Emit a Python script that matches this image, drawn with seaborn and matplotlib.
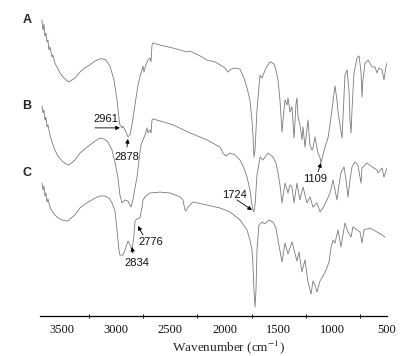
"""FTIR spectra of samples A, B and C"""

import pandas as pd
import seaborn as sns
import matplotlib.pyplot as plt
from matplotlib.ticker import MultipleLocator

# ---- data (wavenumber cm-1, transmittance a.u.) ----
wn_a = [3685, 3675, 3666, 3657, 3648, 3638, 3629, 3620, 3611, 3592, 3583, 3565, 3546, 3518,
        3491, 3463, 3435, 3380, 3334, 3288, 3242, 3195, 3149, 3122, 3094, 3057, 3020, 2992,
        2974, 2965, 2946, 2937, 2918, 2891, 2872, 2854, 2826, 2798, 2780, 2762, 2752, 2743,
        2725, 2706, 2688, 2678, 2669, 2660, 2595, 2475, 2346, 2318, 2226, 2162, 2088, 2042,
        1995, 1968, 1940, 1903, 1857, 1820, 1792, 1765, 1746, 1737, 1728, 1718, 1700, 1682,
        1672, 1654, 1635, 1617, 1580, 1543, 1525, 1506, 1488, 1469, 1451, 1441, 1423, 1414,
        1395, 1377, 1358, 1340, 1331, 1321, 1303, 1285, 1275, 1257, 1229, 1211, 1192, 1183,
        1165, 1137, 1118, 1109, 1091, 1072, 1045, 1026, 1008, 980, 962, 952, 934, 915, 897,
        888, 869, 851, 842, 832, 823, 805, 777, 758, 740, 731, 722, 703, 675, 638, 611, 592,
        574, 546, 528, 509, 500]
t_a = [98.7, 95.3, 97.3, 93.3, 94.3, 91.3, 92.0, 88.7, 89.7, 86.3, 87.0, 84.3, 83.0, 81.0,
       79.7, 78.7, 78.0, 79.3, 81.3, 82.7, 83.7, 85.0, 85.7, 85.7, 85.3, 83.3, 78.7, 72.0,
       66.0, 63.7, 62.7, 63.3, 62.0, 59.7, 60.3, 63.7, 70.3, 77.0, 79.7, 82.0, 83.3, 81.3,
       83.7, 85.3, 86.0, 84.7, 90.3, 91.0, 90.3, 89.3, 88.0, 88.3, 86.7, 85.3, 84.7, 83.7,
       82.7, 81.3, 82.3, 82.7, 82.3, 79.3, 76.0, 72.0, 65.3, 60.3, 53.0, 55.3, 68.7, 76.0,
       80.3, 79.3, 81.0, 82.7, 84.7, 84.0, 82.0, 78.7, 72.0, 61.3, 68.7, 72.0, 70.3, 72.7,
       68.0, 69.7, 59.3, 70.7, 72.7, 66.3, 63.7, 58.7, 63.0, 56.3, 65.3, 57.0, 55.3, 56.0,
       59.7, 54.3, 52.7, 51.0, 53.7, 56.3, 59.3, 63.7, 68.7, 76.7, 72.0, 68.0, 63.7, 59.3, 73.7,
       80.3, 82.0, 75.3, 65.3, 61.0, 68.7, 81.0, 86.0, 86.7, 81.3, 73.0, 78.7, 84.3, 85.3, 83.0,
       83.0, 81.0, 82.7, 82.0, 78.7, 83.3, 84.3]

wn_b = [3685, 3675, 3666, 3657, 3648, 3638, 3629, 3611, 3592, 3565, 3537, 3500, 3463, 3435,
        3380, 3334, 3288, 3242, 3195, 3149, 3112, 3075, 3038, 3011, 2983, 2965, 2946, 2918,
        2891, 2863, 2845, 2826, 2808, 2789, 2771, 2752, 2734, 2715, 2706, 2688, 2678, 2669,
        2660, 2595, 2475, 2318, 2162, 2042, 2014, 1986, 1949, 1903, 1857, 1820, 1792, 1765,
        1746, 1737, 1728, 1718, 1700, 1672, 1645, 1598, 1552, 1525, 1506, 1488, 1469, 1441,
        1414, 1395, 1377, 1358, 1331, 1303, 1275, 1257, 1238, 1211, 1183, 1146, 1118, 1091,
        1054, 1026, 998, 980, 962, 943, 925, 897, 878, 860, 842, 823, 795, 768, 740, 731, 685,
        638, 592, 583, 546, 528, 500]
t_b = [70.0, 67.7, 68.7, 65.3, 66.3, 63.0, 63.7, 60.3, 58.0, 55.3, 53.3, 51.7, 50.7, 50.3,
       52.0, 54.3, 55.7, 57.0, 58.3, 59.3, 59.0, 58.0, 55.3, 51.3, 46.0, 40.3, 37.7, 38.7,
       38.3, 36.3, 38.7, 42.7, 46.0, 52.0, 57.0, 58.7, 60.3, 62.7, 61.0, 62.0, 61.0, 65.3,
       65.7, 65.0, 63.7, 61.0, 58.7, 56.3, 54.3, 53.3, 54.3, 53.7, 52.0, 49.3, 46.3, 42.0,
       37.0, 35.3, 34.7, 37.0, 47.0, 53.0, 52.0, 54.3, 53.0, 51.0, 47.7, 43.7, 37.7, 44.3,
       41.0, 43.7, 43.0, 37.7, 44.3, 38.7, 43.0, 40.3, 37.7, 39.7, 36.3, 37.7, 34.7, 36.0,
       38.7, 41.0, 45.3, 42.0, 38.7, 43.7, 47.7, 49.7, 45.3, 39.7, 45.3, 49.7, 51.3, 50.3,
       44.3, 49.3, 51.0, 49.7, 48.7, 47.7, 49.3, 46.3, 49.3]

wn_c = [3685, 3675, 3666, 3657, 3648, 3638, 3629, 3611, 3592, 3565, 3537, 3500, 3463, 3445,
        3380, 3334, 3288, 3242, 3195, 3149, 3103, 3066, 3038, 3011, 2992, 2974, 2965, 2937,
        2918, 2891, 2872, 2854, 2835, 2826, 2808, 2780, 2762, 2752, 2725, 2688, 2595, 2503,
        2411, 2383, 2365, 2355, 2337, 2291, 2162, 2042, 1949, 1857, 1792, 1765, 1746, 1737,
        1728, 1718, 1709, 1700, 1682, 1654, 1626, 1589, 1552, 1525, 1506, 1469, 1441, 1414,
        1377, 1331, 1312, 1285, 1257, 1229, 1201, 1183, 1165, 1146, 1118, 1091, 1063, 1035,
        1017, 998, 980, 952, 925, 888, 860, 832, 814, 777, 749, 731, 712, 657, 592, 546, 518]
t_c = [44.3, 42.0, 43.3, 40.0, 41.0, 38.0, 39.0, 36.3, 35.0, 33.7, 32.7, 32.0, 31.7, 31.7,
       33.7, 36.0, 37.3, 38.3, 39.3, 40.0, 40.0, 39.3, 37.7, 35.0, 28.7, 22.0, 20.3, 20.3,
       22.0, 25.0, 23.7, 22.0, 27.0, 31.7, 32.3, 32.7, 36.0, 38.7, 40.0, 41.0, 41.3, 41.0,
       39.7, 38.7, 35.3, 35.0, 36.3, 38.0, 37.0, 36.0, 34.7, 32.0, 28.7, 25.3, 22.0, 17.0,
       8.7, 3.0, 8.7, 22.0, 30.3, 31.3, 30.7, 32.0, 31.3, 29.3, 25.3, 18.0, 24.3, 20.7,
       24.7, 18.3, 21.3, 14.7, 18.7, 11.3, 7.3, 11.7, 10.3, 8.0, 11.7, 13.3, 15.3, 18.0,
       22.7, 25.3, 24.3, 28.7, 23.0, 31.0, 28.0, 26.3, 29.7, 28.7, 28.0, 24.3, 28.7, 29.3,
       28.0, 27.0, 26.3]

# peak labels with text position, arrow tail and arrow tip (wn, T)
peak_labels = ["2961", "2878", "2776", "2834", "1724", "1109"]
peak_text = [(3094, 65.6), (2900, 53.0), (2678, 24.7), (2808, 17.7), (1912, 40.3), (1165, 45.7)]
peak_tail = [(3195, 62.7), (2900, 56.3), (2752, 27.0), (2845, 21.0), (1885, 38.7), (1137, 48.0)]
peak_tip = [(2965, 62.7), (2891, 59.0), (2798, 30.0), (2854, 23.0), (1746, 35.3), (1109, 51.0)]

df = pd.concat(
    [
        pd.DataFrame({"wavenumber": wn_a, "T": t_a, "sample": "A"}),
        pd.DataFrame({"wavenumber": wn_b, "T": t_b, "sample": "B"}),
        pd.DataFrame({"wavenumber": wn_c, "T": t_c, "sample": "C"}),
    ]
)

sns.set_style("white")
plt.rcParams["mathtext.fontset"] = "stix"

fig = plt.figure(figsize=(4.02, 3.56), dpi=100)
ax = fig.add_axes([0.1002, 0.1124, 0.8625, 0.8596])
sns.lineplot(
    data=df,
    x="wavenumber",
    y="T",
    units="sample",
    estimator=None,
    sort=False,
    color="#7a7a7a",
    linewidth=0.6,
    ax=ax,
    legend=False,
)

ax.set_xlim(3700, 500)
ax.set_ylim(0, 102)
ax.set_xlabel("")
ax.set_ylabel("")
ax.set_yticks([])
for s in ["top", "left", "right"]:
    ax.spines[s].set_visible(False)
ax.spines["bottom"].set_color("black")
ax.spines["bottom"].set_linewidth(0.9)
ax.xaxis.set_major_locator(MultipleLocator(500))
ax.xaxis.set_minor_locator(MultipleLocator(250))
ax.tick_params(axis="x", which="major", direction="out", length=4, width=0.8,
               color="black", pad=2, labelsize=9)
ax.tick_params(axis="x", which="minor", direction="inout", length=3, width=0.7,
               color="black", bottom=True)
for lab in ax.get_xticklabels():
    lab.set_family("Liberation Serif")
    lab.set_color("#111111")

# peak annotations
for lab, txt, tail, tip in zip(peak_labels, peak_text, peak_tail, peak_tip):
    ax.annotate("", xy=tip, xytext=tail,
                arrowprops=dict(arrowstyle="-|>", color="black", lw=0.6,
                                mutation_scale=6, shrinkA=0, shrinkB=0))
    ax.text(txt[0], txt[1], lab, ha="center", va="center", fontsize=8,
            family="Liberation Sans", color="#111111")

# sample letters
for letter, yy in zip(["A", "B", "C"], [20, 106, 173]):
    fig.text(27 / 402, 1 - yy / 356, letter, ha="center", va="center",
             fontsize=9, fontweight="bold", family="Liberation Sans")

fig.text(228 / 402, 1 - 347 / 356, "Wavenumber (cm$^{-1}$)", ha="center", va="center",
         fontsize=9.5, family="Liberation Serif")

fig.savefig("out.png", dpi=100)
